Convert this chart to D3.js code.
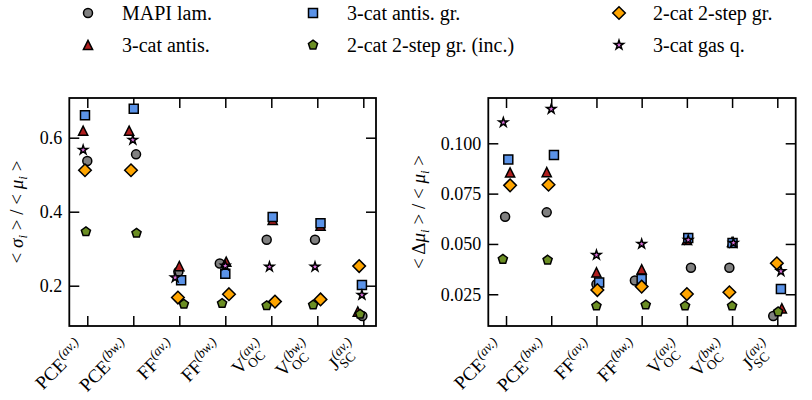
<!DOCTYPE html>
<html>
<head>
<meta charset="utf-8">
<script src="https://cdn.jsdelivr.net/npm/d3@7"></script>
<style>
  html, body { margin: 0; padding: 0; background: #fff; }
  svg { display: block; }
  svg text { font-family: "Liberation Serif", "DejaVu Serif", serif; }
</style>
</head>
<body>
<svg id="chart" width="812" height="400"></svg>
<script>
// Figures of merit on the x axis
const categories = ["PCE av", "PCE bw", "FF av", "FF bw", "VOC av", "VOC bw", "JSC av"];
const tickBase = ["PCE", "PCE", "FF", "FF", "V", "V", "J"];
const tickSub  = ["", "", "", "", "OC", "OC", "SC"];
const tickSup  = ["(av.)", "(bw.)", "(av.)", "(bw.)", "(av.)", "(bw.)", "(av.)"];

// Sample series (legend order)
const seriesNames = ["MAPI lam.", "3-cat antis.", "3-cat antis. gr.",
                     "2-cat 2-step gr. (inc.)", "2-cat 2-step gr.", "3-cat gas q."];

// <sigma_i>/<mu_i>
const sdMapi       = [0.537, 0.555, 0.238, 0.260, 0.324, 0.324, 0.118];
const sdAntis      = [0.619, 0.619, 0.253, 0.265, 0.378, 0.362, 0.130];
const sdAntisGr    = [0.661, 0.678, 0.215, 0.232, 0.386, 0.369, 0.202];
const sdTwoStepInc = [0.346, 0.342, 0.150, 0.152, 0.146, 0.148, 0.123];
const sdTwoStep    = [0.512, 0.512, 0.168, 0.177, 0.157, 0.163, 0.253];
const sdGasQ       = [0.567, 0.594, 0.222, 0.254, 0.251, 0.251, 0.175];

// <Delta mu_i>/<mu_i>
const dmMapi       = [0.0635, 0.0657, 0.0300, 0.0318, 0.0382, 0.0382, 0.0142];
const dmAntis      = [0.0855, 0.0857, 0.0359, 0.0374, 0.0520, 0.0510, 0.0180];
const dmAntisGr    = [0.0920, 0.0942, 0.0308, 0.0326, 0.0530, 0.0505, 0.0276];
const dmTwoStepInc = [0.0424, 0.0420, 0.0192, 0.0197, 0.0192, 0.0192, 0.0163];
const dmTwoStep    = [0.0791, 0.0794, 0.0271, 0.0288, 0.0251, 0.0260, 0.0404];
const dmGasQ       = [0.1104, 0.1170, 0.0445, 0.0500, 0.0520, 0.0505, 0.0364];

// horizontal jitter (in category units) to reduce overlap
const sdJitMapi       = [0.00, 0.06, -0.02, -0.12, -0.10, -0.05, -0.02];
const sdJitAntis      = [-0.09, -0.09, 0.00, 0.02, 0.03, 0.07, -0.12];
const sdJitAntisGr    = [-0.05, 0.01, 0.04, 0.00, 0.03, 0.07, -0.03];
const sdJitTwoStepInc = [-0.03, 0.07, 0.10, -0.07, -0.10, -0.09, -0.07];
const sdJitTwoStep    = [-0.05, -0.05, -0.03, 0.08, 0.08, 0.07, -0.09];
const sdJitGasQ       = [-0.09, -0.01, -0.09, 0.00, -0.04, -0.05, -0.03];

const dmJitMapi       = [-0.02, -0.10, 0.00, -0.15, 0.09, -0.06, -0.09];
const dmJitAntis      = [0.09, -0.10, 0.00, 0.00, 0.00, 0.00, 0.10];
const dmJitAntisGr    = [0.05, 0.06, 0.06, 0.00, 0.03, 0.01, 0.08];
const dmJitTwoStepInc = [-0.07, -0.08, 0.00, 0.09, -0.04, 0.00, 0.02];
const dmJitTwoStep    = [0.09, -0.06, 0.02, 0.00, 0.00, -0.06, -0.01];
const dmJitGasQ       = [-0.06, 0.00, 0.00, 0.00, 0.03, 0.03, 0.08];

const yTicksLeft  = [0.2, 0.4, 0.6];
const yTicksRight = [0.025, 0.050, 0.075, 0.100];

// ---- marker shapes (size = radius^2) ----
const shape = fn => ({ draw(ctx, size) { fn(ctx, Math.sqrt(size)); } });
const polygon = (ctx, pts) => { pts.forEach((p, i) => i ? ctx.lineTo(p[0], p[1]) : ctx.moveTo(p[0], p[1])); ctx.closePath(); };
const mCircle = shape((c, r) => { c.moveTo(r, 0); c.arc(0, 0, r, 0, 2 * Math.PI); });
const mTriangle = shape((c, r) => polygon(c, [[0, -r], [-r, r], [r, r]]));
const mSquare = shape((c, r) => polygon(c, [[-r, -r], [r, -r], [r, r], [-r, r]]));
const mPentagon = shape((c, r) => polygon(c, d3.range(5).map(k => {
  const a = -Math.PI / 2 + k * 2 * Math.PI / 5; return [r * Math.cos(a), r * Math.sin(a)]; })));
const mDiamond = shape((c, r) => polygon(c, [[0, -r], [r, 0], [0, r], [-r, 0]]));
const mStar = shape((c, r) => polygon(c, d3.range(10).map(k => {
  const a = -Math.PI / 2 + k * Math.PI / 5, rr = k % 2 ? r * 0.381966 : r;
  return [rr * Math.cos(a), rr * Math.sin(a)]; })));

const styles = [
  { type: mCircle,   r: 4.5, fill: "#808080" },
  { type: mTriangle, r: 4.6, fill: "#b01e1e" },
  { type: mSquare,   r: 4.5, fill: "#5b93e8" },
  { type: mPentagon, r: 4.8, fill: "#6b8e23" },
  { type: mDiamond,  r: 6.3, fill: "#ffa500" },
  { type: mStar,     r: 4.8, fill: "#e070e0" }
];

const svg = d3.select("#chart");
const FONT = 18;

function drawPanel(cfg) {
  const x = d3.scaleLinear().domain(cfg.xDomain).range([cfg.left, cfg.right]);
  const y = d3.scaleLinear().domain(cfg.yDomain).range([cfg.bottom, cfg.top]);
  const g = svg.append("g");
  const idx = d3.range(categories.length);

  // ticks pointing inward on all four sides
  const tickStyle = sel => {
    sel.select(".domain").remove();
    sel.selectAll(".tick line").attr("stroke", "#000").attr("stroke-width", 1.5);
    sel.selectAll("text").attr("font-size", FONT).attr("fill", "#000");
  };
  g.append("g").attr("transform", `translate(0,${cfg.bottom})`)
    .call(d3.axisBottom(x).tickValues(idx).tickSize(-10).tickFormat(""))
    .call(tickStyle);
  g.append("g").attr("transform", `translate(0,${cfg.top})`)
    .call(d3.axisTop(x).tickValues(idx).tickSize(-10).tickFormat(""))
    .call(tickStyle);
  g.append("g").attr("transform", `translate(${cfg.left},0)`)
    .call(d3.axisLeft(y).tickValues(cfg.yTicks).tickSize(-10).tickPadding(7).tickFormat(cfg.fmt))
    .call(tickStyle);
  g.append("g").attr("transform", `translate(${cfg.right},0)`)
    .call(d3.axisRight(y).tickValues(cfg.yTicks).tickSize(-10).tickFormat(""))
    .call(tickStyle);

  // markers, drawn in legend order
  cfg.values.forEach((vals, s) => {
    const st = styles[s];
    const sym = d3.symbol().type(st.type).size(st.r * st.r);
    g.append("g").selectAll("path").data(vals).join("path")
      .attr("transform", (v, i) => `translate(${x(i + cfg.jitter[s][i])},${y(v)})`)
      .attr("d", sym)
      .attr("fill", st.fill).attr("stroke", "#000").attr("stroke-width", 1.5)
      .attr("stroke-linejoin", "miter").attr("stroke-miterlimit", 10);
  });

  // frame
  g.append("rect").attr("x", cfg.left).attr("y", cfg.top)
    .attr("width", cfg.right - cfg.left).attr("height", cfg.bottom - cfg.top)
    .attr("fill", "none").attr("stroke", "#000").attr("stroke-width", 1.8);

  // rotated category labels with sub/superscripts
  idx.forEach(i => {
    const outer = g.append("g");
    const inner = outer.append("g").attr("transform", "rotate(-45)");
    const base = inner.append("text").attr("x", 0).attr("y", 0)
      .attr("font-size", 19).text(tickBase[i]);
    const bw = base.node().getComputedTextLength();
    inner.append("text").attr("x", bw + 0.5).attr("y", -8)
      .attr("font-size", 13.5).attr("font-style", "italic").text(tickSup[i]);
    if (tickSub[i]) {
      inner.append("text").attr("x", bw + 0.5).attr("y", 5)
        .attr("font-size", 13.5).text(tickSub[i]);
    }
    const bb = inner.node().getBBox();
    const corners = [[bb.x, bb.y], [bb.x + bb.width, bb.y], [bb.x, bb.y + bb.height], [bb.x + bb.width, bb.y + bb.height]]
      .map(([px, py]) => [(px + py) / Math.SQRT2, (-px + py) / Math.SQRT2]);
    const maxX = d3.max(corners, c => c[0]);
    const minY = d3.min(corners, c => c[1]);
    outer.attr("transform", `translate(${x(i) - maxX + 1},${cfg.bottom + 8 - minY})`);
  });

  // y axis title
  const t = g.append("text")
    .attr("transform", `translate(${cfg.titleX},${(cfg.top + cfg.bottom) / 2}) rotate(-90)`)
    .attr("text-anchor", "middle").attr("font-size", 19);
  cfg.title.forEach(([txt, kind]) => {
    const ts = t.append("tspan").text(txt);
    if (kind === "it") ts.attr("font-style", "italic");
    if (kind === "sub") ts.attr("font-style", "italic").attr("font-size", 13).attr("dy", 4);
    if (kind === "after") ts.attr("dy", -4);
  });
}

drawPanel({
  left: 69.3, right: 376, top: 98, bottom: 326,
  xDomain: [-0.391, 6.276], yDomain: [0.0911, 0.7073],
  yTicks: yTicksLeft, fmt: d3.format(".1f"),
  values: [sdMapi, sdAntis, sdAntisGr, sdTwoStepInc, sdTwoStep, sdGasQ],
  jitter: [sdJitMapi, sdJitAntis, sdJitAntisGr, sdJitTwoStepInc, sdJitTwoStep, sdJitGasQ],
  titleX: 23,
  title: [["< ", ""], ["σ", "it"], ["i", "sub"], [" > / < ", "after"], ["μ", "it"], ["i", "sub"], [" >", "after"]]
});

drawPanel({
  left: 488.3, right: 795.7, top: 98, bottom: 326,
  xDomain: [-0.392, 6.407], yDomain: [0.00924, 0.1225],
  yTicks: yTicksRight, fmt: d3.format(".3f"),
  values: [dmMapi, dmAntis, dmAntisGr, dmTwoStepInc, dmTwoStep, dmGasQ],
  jitter: [dmJitMapi, dmJitAntis, dmJitAntisGr, dmJitTwoStepInc, dmJitTwoStep, dmJitGasQ],
  titleX: 425,
  title: [["< Δ", ""], ["μ", "it"], ["i", "sub"], [" > / < ", "after"], ["μ", "it"], ["i", "sub"], [" >", "after"]]
});

// legend: three columns, filled column-wise
const legX = [88, 313, 619], legY = [13, 45];
const legend = svg.append("g");
seriesNames.forEach((name, s) => {
  const col = Math.floor(s / 2), row = s % 2;
  const st = styles[s];
  legend.append("path")
    .attr("transform", `translate(${legX[col]},${legY[row]})`)
    .attr("d", d3.symbol().type(st.type).size(st.r * st.r))
    .attr("fill", st.fill).attr("stroke", "#000").attr("stroke-width", 1.5)
    .attr("stroke-miterlimit", 10);
  legend.append("text").attr("x", legX[col] + 34).attr("y", legY[row]).attr("dy", "0.35em")
    .attr("font-size", 20).text(name);
});
</script>
</body>
</html>
